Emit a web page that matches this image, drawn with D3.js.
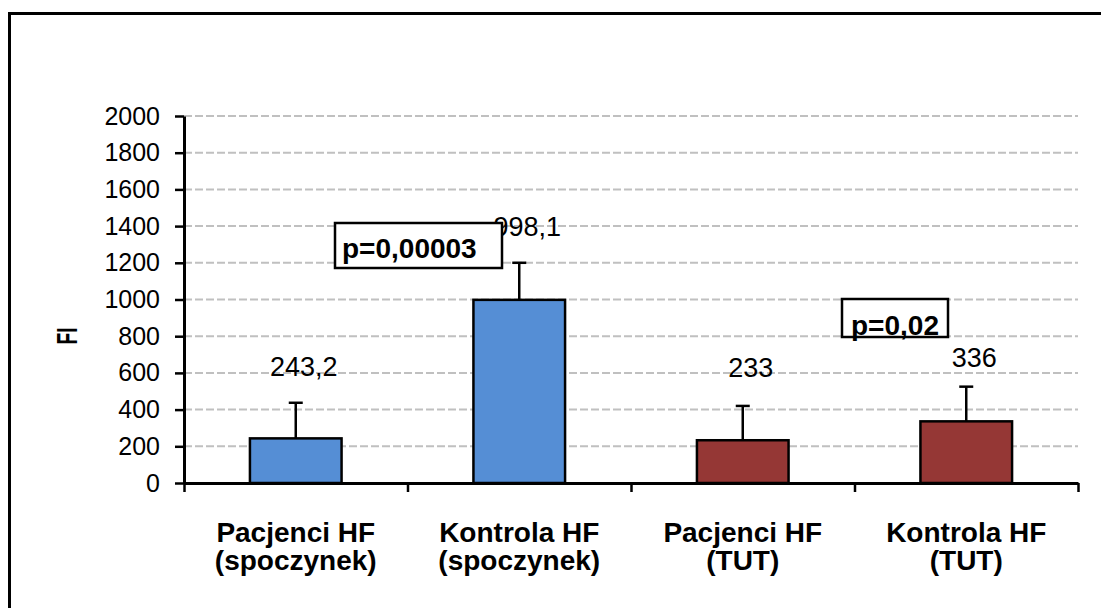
<!DOCTYPE html>
<html>
<head>
<meta charset="utf-8">
<script src="https://cdn.jsdelivr.net/npm/d3@7"></script>
<style>
  html, body { margin: 0; padding: 0; background: #fff; }
  svg { display: block; font-family: "Liberation Sans", Arial, sans-serif; }
</style>
</head>
<body>
<svg id="chart" width="1101" height="608"></svg>
<script>
// Groups, means and standard deviations
const categories = [
  ["Pacjenci HF", "(spoczynek)"],
  ["Kontrola HF", "(spoczynek)"],
  ["Pacjenci HF", "(TUT)"],
  ["Kontrola HF", "(TUT)"]
];
const values = [243.2, 998.1, 233, 336];
const errors = [194, 202, 187, 189];
const valueLabels = ["243,2", "998,1", "233", "336"];
const yTicks = [0, 200, 400, 600, 800, 1000, 1200, 1400, 1600, 1800, 2000];
const pValues = ["p=0,00003", "p=0,02"];
const yTitle = "FI";

const barColors = ["#558ed5", "#558ed5", "#953735", "#953735"];

const svg = d3.select("#chart");
const plotLeft = 184, plotRight = 1078, plotTop = 116, plotBottom = 483;

// outer frame
svg.append("rect")
  .attr("x", 9.5).attr("y", 13.5)
  .attr("width", 1101).attr("height", 608)
  .attr("fill", "none").attr("stroke", "#000").attr("stroke-width", 3);

const y = d3.scaleLinear().domain([0, 2000]).range([plotBottom, plotTop]);
const x = d3.scaleBand()
  .domain(d3.range(categories.length))
  .range([plotLeft, plotRight])
  .paddingInner(0.59)
  .paddingOuter(0.295);

// dashed gridlines
svg.append("g")
  .selectAll("line")
  .data(yTicks.filter(d => d > 0))
  .join("line")
  .attr("x1", plotLeft).attr("x2", plotRight)
  .attr("y1", d => y(d)).attr("y2", d => y(d))
  .attr("stroke", "#c0c0c0")
  .attr("stroke-width", 2)
  .attr("stroke-dasharray", "8,3");

// bars
svg.append("g")
  .selectAll("rect")
  .data(values)
  .join("rect")
  .attr("x", (d, i) => x(i))
  .attr("y", d => y(d))
  .attr("width", x.bandwidth())
  .attr("height", d => y(0) - y(d))
  .attr("fill", (d, i) => barColors[i])
  .attr("stroke", "#000")
  .attr("stroke-width", 2.5);

// error bars (upper only)
const eg = svg.append("g").attr("stroke", "#000").attr("stroke-width", 2.5);
values.forEach((v, i) => {
  const cx = x(i) + x.bandwidth() / 2;
  eg.append("line")
    .attr("x1", cx).attr("x2", cx)
    .attr("y1", y(v)).attr("y2", y(v + errors[i]));
  eg.append("line")
    .attr("x1", cx - 7).attr("x2", cx + 7)
    .attr("y1", y(v + errors[i])).attr("y2", y(v + errors[i]));
});

// value labels above the error bars
const labelLift = [27, 27, 29, 20];
svg.append("g")
  .selectAll("text")
  .data(valueLabels)
  .join("text")
  .attr("x", (d, i) => x(i) + x.bandwidth() / 2 + 8)
  .attr("y", (d, i) => y(values[i] + errors[i]) - labelLift[i])
  .attr("text-anchor", "middle")
  .attr("font-size", 27)
  .attr("fill", "#000")
  .text(d => d);

// y axis
const yAxis = svg.append("g")
  .attr("transform", `translate(${plotLeft},0)`)
  .call(d3.axisLeft(y).tickValues(yTicks).tickSizeInner(9).tickSizeOuter(0).tickPadding(15)
    .tickFormat(d3.format("d")));
yAxis.select(".domain").attr("stroke-width", 3);
yAxis.selectAll(".tick line").attr("stroke-width", 2.5);
yAxis.selectAll(".tick text")
  .attr("font-size", 25)
  .attr("font-family", "'Liberation Sans', Arial, sans-serif")
  .attr("fill", "#000");

// x axis with ticks between the categories
const xEdge = d3.scaleLinear().domain([0, categories.length]).range([plotLeft, plotRight]);
const xAxis = svg.append("g")
  .attr("transform", `translate(0,${plotBottom})`)
  .call(d3.axisBottom(xEdge).tickValues(d3.range(categories.length + 1))
    .tickSizeInner(9).tickSizeOuter(0).tickFormat(""));
xAxis.select(".domain").attr("stroke-width", 3);
xAxis.selectAll(".tick line").attr("stroke-width", 2.5);

// category labels
const cl = svg.append("g")
  .attr("font-size", 28)
  .attr("font-weight", "bold")
  .attr("text-anchor", "middle");
categories.forEach((lines, i) => {
  const t = cl.append("text")
    .attr("x", x(i) + x.bandwidth() / 2)
    .attr("y", 542);
  lines.forEach((ln, k) => {
    t.append("tspan")
      .attr("x", x(i) + x.bandwidth() / 2)
      .attr("dy", k === 0 ? 0 : 28)
      .text(ln);
  });
});

// y axis title
svg.append("text")
  .attr("transform", "translate(77,336) rotate(-90)")
  .attr("text-anchor", "middle")
  .attr("font-size", 30)
  .attr("font-weight", "bold")
  .attr("textLength", 17)
  .attr("lengthAdjust", "spacingAndGlyphs")
  .text(yTitle);

// significance boxes
const boxes = [
  { x0: 335, y0: 223, w: 167, h: 45, tx: 342, ty: 258 },
  { x0: 842, y0: 299, w: 106, h: 38, tx: 851, ty: 335 }
];
boxes.forEach((b, i) => {
  svg.append("rect")
    .attr("x", b.x0).attr("y", b.y0)
    .attr("width", b.w).attr("height", b.h)
    .attr("fill", "#fff")
    .attr("stroke", "#000")
    .attr("stroke-width", 2.5);
  svg.append("text")
    .attr("x", b.tx).attr("y", b.ty)
    .attr("font-size", 28)
    .attr("font-weight", "bold")
    .text(pValues[i]);
});
</script>
</body>
</html>
